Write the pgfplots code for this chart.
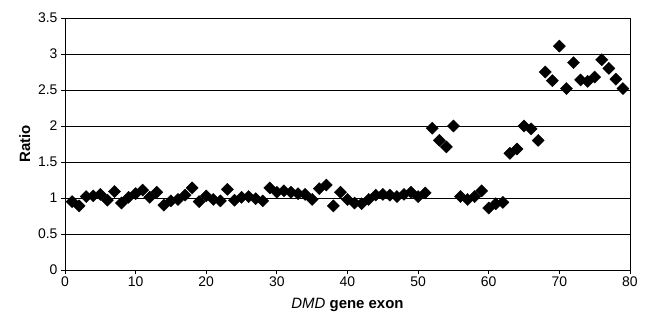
\documentclass[border=0pt]{standalone}
\usepackage{pgfplots}
\pgfplotsset{compat=1.18}
\usepackage{fontspec}
\setmainfont{Liberation Sans}
\usetikzlibrary{calc}
\begin{document}
\begin{tikzpicture}
\begin{axis}[
  scale only axis,
  width=565bp, height=252bp,
  xmin=0, xmax=80, ymin=0, ymax=3.5,
  xtick={0,10,20,30,40,50,60,70,80},
  ytick={0,0.5,1,1.5,2,2.5,3,3.5},
  yticklabels={0,0.5,1,1.5,2,2.5,3,3.5},
  ymajorgrids,
  grid style={black, line width=0.8pt},
  axis line style={black, line width=0.8pt},
  tick style={black, line width=0.8pt},
  tick align=outside, major tick length=4bp,
  xtick pos=bottom, ytick pos=left,
  ticklabel style={font=\fontsize{14}{16}\selectfont},
  xticklabel style={yshift=1bp},
  /pgf/number format/assume math mode=true,
  xlabel={\textit{DMD} \textbf{gene exon}},
  ylabel={\textbf{Ratio}},
  label style={font=\fontsize{15}{17}\selectfont},
  xlabel style={at={(axis description cs:0.5,-0.139)}, anchor=center},
  ylabel style={at={(axis description cs:-0.071,0.5)}, anchor=center},
  clip=false,
]
\addplot[only marks, mark=square*, mark size=4.3pt, mark options={rotate=45, fill=black, draw=black}] coordinates {
(1,0.95) (2,0.89) (3,1.02) (4,1.03) (5,1.05) (6,0.97) (7,1.09) (8,0.93) (9,1.01) (10,1.06)
(11,1.11) (12,1.01) (13,1.08) (14,0.90) (15,0.96) (16,0.98) (17,1.04) (18,1.14) (19,0.95) (20,1.03)
(21,0.98) (22,0.96) (23,1.12) (24,0.97) (25,1.01) (26,1.02) (27,0.99) (28,0.96) (29,1.14) (30,1.08)
(31,1.10) (32,1.08) (33,1.06) (34,1.05) (35,0.98) (36,1.13) (37,1.18) (38,0.89) (39,1.08) (40,0.98)
(41,0.93) (42,0.92) (43,0.98) (44,1.04) (45,1.05) (46,1.04) (47,1.02) (48,1.05) (49,1.08) (50,1.02)
(51,1.07) (52,1.97) (53,1.80) (54,1.71) (55,2.00) (56,1.02) (57,0.98) (58,1.02) (59,1.10) (60,0.86)
(61,0.92) (62,0.94) (63,1.62) (64,1.68) (65,2.00) (66,1.96) (67,1.80) (68,2.75) (69,2.63) (70,3.11)
(71,2.52) (72,2.88) (73,2.64) (74,2.62) (75,2.68) (76,2.92) (77,2.80) (78,2.65) (79,2.52)
};
\end{axis}
\useasboundingbox ($(current axis.south west)+(-65bp,-53bp)$) rectangle ($(current axis.north east)+(23bp,18bp)$);
\end{tikzpicture}
\end{document}
